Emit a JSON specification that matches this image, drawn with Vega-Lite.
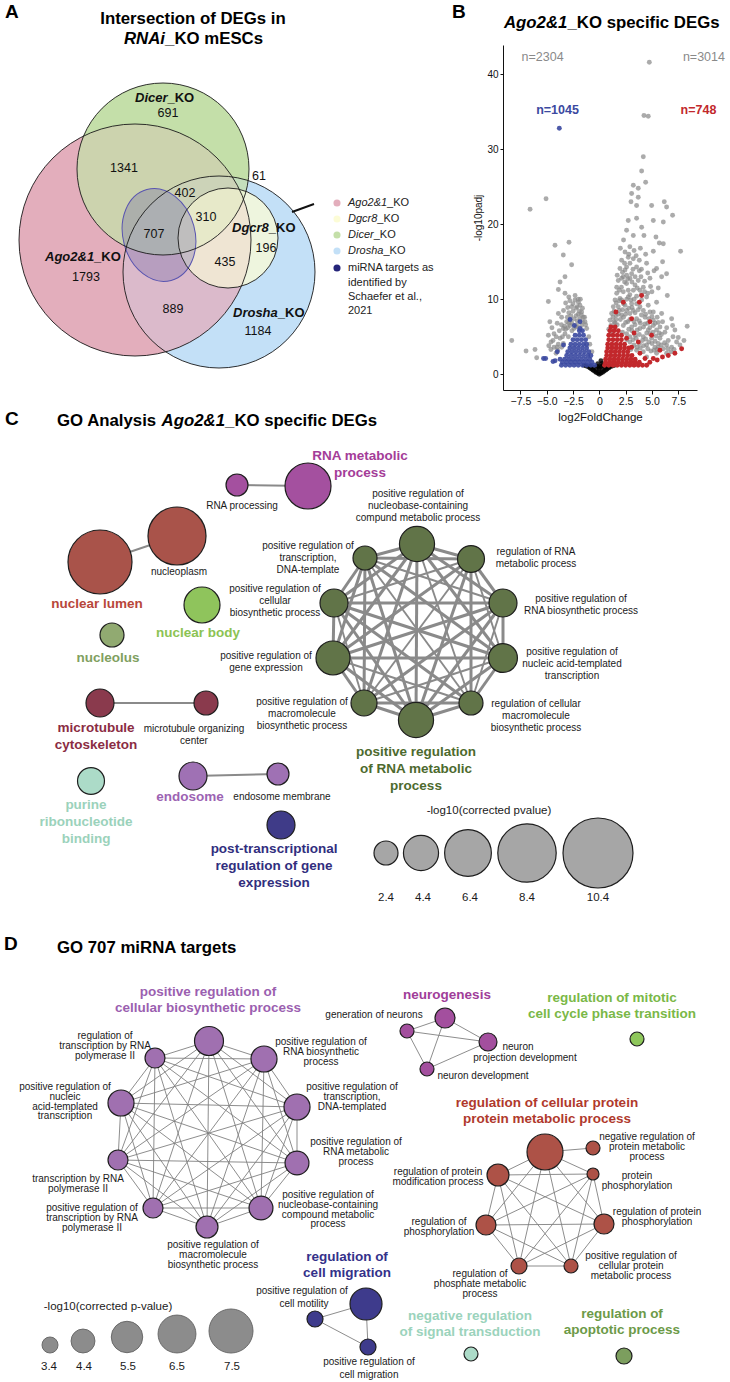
{
"$schema":"https://vega.github.io/schema/vega-lite/v6.json",
"padding":0,
"spacing":0,
"bounds":"flush",
"config":{"view":{"stroke":null},"font":"Liberation Sans"},
"resolve":{"scale":{"color":"independent","size":"independent","opacity":"independent","strokeWidth":"independent"}},
"datasets":{
"volcano":[
{"x":-8.32,"y":4.5,"g":"all"},{"x":-6.96,"y":3.1,"g":"all"},{"x":-6.11,"y":3.3,"g":"all"},{"x":-6.58,"y":22.0,"g":"all"},{"x":-5.06,"y":23.4,"g":"all"},{"x":-4.84,"y":9.7,"g":"all"},{"x":-4.84,"y":5.2,"g":"all"},{"x":-4.59,"y":4.3,"g":"all"},{"x":-5.95,"y":2.2,"g":"all"},{"x":-4.21,"y":17.2,"g":"all"},{"x":-3.89,"y":11.3,"g":"all"},{"x":-3.73,"y":12.3,"g":"all"},{"x":-3.89,"y":8.1,"g":"all"},{"x":-3.42,"y":15.9,"g":"all"},{"x":-3.26,"y":13.0,"g":"all"},{"x":-3.26,"y":10.8,"g":"all"},{"x":-2.88,"y":17.6,"g":"all"},{"x":-2.63,"y":14.6,"g":"all"},{"x":-4.30,"y":5.4,"g":"all"},{"x":-3.42,"y":6.1,"g":"all"},{"x":-3.58,"y":7.6,"g":"all"},{"x":-3.04,"y":7.6,"g":"all"},{"x":-2.31,"y":9.9,"g":"all"},{"x":-1.99,"y":9.6,"g":"all"},{"x":-1.84,"y":9.2,"g":"all"},{"x":-2.22,"y":8.8,"g":"all"},{"x":-2.63,"y":9.0,"g":"all"},{"x":-1.68,"y":8.3,"g":"all"},{"x":-1.84,"y":7.4,"g":"all"},{"x":-1.52,"y":7.6,"g":"all"},{"x":-2.78,"y":7.2,"g":"all"},{"x":-2.15,"y":6.5,"g":"all"},{"x":-1.68,"y":6.5,"g":"all"},{"x":-3.58,"y":3.6,"g":"all"},{"x":-3.96,"y":3.2,"g":"all"},{"x":-3.26,"y":5.4,"g":"all"},{"x":-2.94,"y":5.0,"g":"all"},{"x":-3.73,"y":4.8,"g":"all"},{"x":-4.11,"y":2.8,"g":"all"},{"x":-2.78,"y":6.5,"g":"all"},{"x":-2.41,"y":6.1,"g":"all"},{"x":-1.36,"y":7.0,"g":"all"},{"x":-1.20,"y":6.1,"g":"all"},{"x":-3.42,"y":4.1,"g":"all"},
{"x":-4.7,"y":7.0,"g":"all"},{"x":-4.5,"y":6.2,"g":"all"},{"x":-4.0,"y":6.8,"g":"all"},{"x":-3.2,"y":9.5,"g":"all"},{"x":-2.9,"y":10.3,"g":"all"},{"x":-2.5,"y":8.4,"g":"all"},{"x":-2.0,"y":8.0,"g":"all"},{"x":-1.6,"y":7.0,"g":"all"},{"x":-1.3,"y":6.6,"g":"all"},{"x":-1.0,"y":5.0,"g":"all"},{"x":-0.9,"y":4.0,"g":"all"},{"x":-0.7,"y":3.0,"g":"all"},{"x":-3.9,"y":4.0,"g":"all"},{"x":-4.3,"y":3.6,"g":"all"},{"x":-3.0,"y":6.2,"g":"all"},{"x":-2.6,"y":6.8,"g":"all"},{"x":-2.1,"y":7.1,"g":"all"},
{"x":-3.4,"y":8.5,"g":"all"},{"x":-3.1,"y":7.0,"g":"all"},{"x":-2.9,"y":8.2,"g":"all"},{"x":-2.7,"y":7.8,"g":"all"},{"x":-2.4,"y":7.4,"g":"all"},{"x":-2.2,"y":7.8,"g":"all"},{"x":-1.9,"y":8.4,"g":"all"},{"x":-1.7,"y":7.9,"g":"all"},{"x":-1.4,"y":7.6,"g":"all"},{"x":-2.5,"y":9.4,"g":"all"},{"x":-2.1,"y":9.0,"g":"all"},{"x":-1.6,"y":8.8,"g":"all"},{"x":-2.8,"y":9.8,"g":"all"},{"x":-3.0,"y":8.9,"g":"all"},{"x":-2.3,"y":10.5,"g":"all"},{"x":-2.0,"y":10.0,"g":"all"},{"x":-1.8,"y":10.0,"g":"all"},{"x":-3.6,"y":6.6,"g":"all"},{"x":-3.3,"y":6.4,"g":"all"},{"x":-2.9,"y":6.8,"g":"all"},{"x":-3.8,"y":5.8,"g":"all"},{"x":-3.5,"y":5.0,"g":"all"},{"x":-4.1,"y":5.0,"g":"all"},{"x":-4.4,"y":4.5,"g":"all"},{"x":-4.0,"y":3.6,"g":"all"},{"x":-4.6,"y":3.3,"g":"all"},{"x":-4.8,"y":3.8,"g":"all"},{"x":-2.6,"y":5.8,"g":"all"},{"x":-2.2,"y":6.3,"g":"all"},{"x":-3.2,"y":6.0,"g":"all"},
{"x":4.75,"y":41.6,"g":"all"},{"x":4.24,"y":34.5,"g":"all"},{"x":4.65,"y":34.4,"g":"all"},{"x":4.18,"y":29.0,"g":"all"},{"x":4.02,"y":27.1,"g":"all"},{"x":3.23,"y":25.2,"g":"all"},{"x":3.07,"y":24.1,"g":"all"},{"x":3.70,"y":24.8,"g":"all"},{"x":4.40,"y":25.6,"g":"all"},{"x":4.97,"y":22.5,"g":"all"},{"x":6.17,"y":23.0,"g":"all"},{"x":6.39,"y":22.3,"g":"all"},{"x":6.96,"y":21.2,"g":"all"},{"x":3.01,"y":23.0,"g":"all"},{"x":3.70,"y":23.6,"g":"all"},{"x":3.54,"y":22.5,"g":"all"},{"x":2.75,"y":20.5,"g":"all"},{"x":3.54,"y":20.8,"g":"all"},{"x":4.02,"y":19.6,"g":"all"},{"x":5.13,"y":20.5,"g":"all"},{"x":6.08,"y":20.3,"g":"all"},{"x":2.59,"y":19.2,"g":"all"},{"x":3.23,"y":18.5,"g":"all"},{"x":4.24,"y":18.5,"g":"all"},{"x":5.38,"y":18.3,"g":"all"},{"x":5.70,"y":17.5,"g":"all"},{"x":6.08,"y":17.4,"g":"all"},{"x":7.72,"y":16.4,"g":"all"},{"x":5.13,"y":16.4,"g":"all"},{"x":2.44,"y":16.3,"g":"all"},{"x":2.75,"y":15.6,"g":"all"},{"x":3.23,"y":15.4,"g":"all"},{"x":3.80,"y":15.2,"g":"all"},{"x":4.49,"y":14.8,"g":"all"},{"x":5.44,"y":14.1,"g":"all"},{"x":6.01,"y":15.0,"g":"all"},{"x":1.96,"y":14.1,"g":"all"},{"x":2.44,"y":13.9,"g":"all"},{"x":3.07,"y":13.4,"g":"all"},{"x":3.96,"y":13.0,"g":"all"},{"x":4.81,"y":12.8,"g":"all"},{"x":5.92,"y":13.0,"g":"all"},{"x":6.39,"y":13.4,"g":"all"},{"x":2.12,"y":12.8,"g":"all"},{"x":2.59,"y":12.1,"g":"all"},{"x":3.39,"y":11.9,"g":"all"},{"x":4.18,"y":11.6,"g":"all"},{"x":4.87,"y":11.7,"g":"all"},{"x":6.46,"y":10.5,"g":"all"},{"x":2.28,"y":11.0,"g":"all"},{"x":1.96,"y":10.1,"g":"all"},{"x":2.75,"y":10.3,"g":"all"},{"x":3.54,"y":10.4,"g":"all"},{"x":4.49,"y":10.3,"g":"all"},{"x":5.44,"y":9.6,"g":"all"},{"x":1.80,"y":9.0,"g":"all"},{"x":2.44,"y":9.2,"g":"all"},{"x":3.07,"y":9.4,"g":"all"},{"x":3.86,"y":9.0,"g":"all"},{"x":4.81,"y":8.3,"g":"all"},{"x":5.92,"y":8.1,"g":"all"},{"x":6.87,"y":7.4,"g":"all"},{"x":1.58,"y":7.9,"g":"all"},{"x":2.12,"y":7.9,"g":"all"},{"x":2.91,"y":8.1,"g":"all"},{"x":3.54,"y":7.4,"g":"all"},{"x":4.34,"y":7.6,"g":"all"},{"x":5.13,"y":7.2,"g":"all"},{"x":6.01,"y":7.0,"g":"all"},{"x":6.96,"y":6.5,"g":"all"},{"x":8.35,"y":6.4,"g":"all"},{"x":1.49,"y":6.8,"g":"all"},{"x":2.28,"y":6.5,"g":"all"},{"x":3.07,"y":6.3,"g":"all"},{"x":3.86,"y":6.1,"g":"all"},{"x":4.65,"y":5.9,"g":"all"},{"x":5.44,"y":5.9,"g":"all"},{"x":6.23,"y":5.6,"g":"all"},{"x":7.18,"y":5.9,"g":"all"},{"x":2.59,"y":5.4,"g":"all"},{"x":3.39,"y":5.2,"g":"all"},{"x":4.18,"y":5.0,"g":"all"},{"x":4.97,"y":4.8,"g":"all"},{"x":5.76,"y":4.8,"g":"all"},{"x":6.55,"y":4.5,"g":"all"},{"x":8.04,"y":4.5,"g":"all"},{"x":2.91,"y":4.3,"g":"all"},{"x":3.80,"y":4.1,"g":"all"},{"x":4.49,"y":3.9,"g":"all"},{"x":5.28,"y":3.6,"g":"all"},{"x":6.08,"y":3.4,"g":"all"},{"x":6.87,"y":3.6,"g":"all"},{"x":3.54,"y":3.2,"g":"all"},{"x":4.18,"y":3.0,"g":"all"},{"x":5.44,"y":2.8,"g":"all"},{"x":6.39,"y":2.8,"g":"all"},{"x":4.49,"y":2.3,"g":"all"},{"x":2.59,"y":14.3,"g":"all"},{"x":2.12,"y":15.2,"g":"all"},{"x":2.91,"y":14.8,"g":"all"},{"x":3.54,"y":14.3,"g":"all"},{"x":2.28,"y":13.0,"g":"all"},{"x":2.91,"y":12.8,"g":"all"},{"x":3.70,"y":12.5,"g":"all"},{"x":2.75,"y":11.2,"g":"all"},{"x":3.23,"y":11.2,"g":"all"},{"x":3.86,"y":11.2,"g":"all"},{"x":1.65,"y":11.6,"g":"all"},{"x":1.90,"y":11.2,"g":"all"},{"x":1.65,"y":10.8,"g":"all"},{"x":1.49,"y":9.9,"g":"all"},{"x":1.33,"y":9.0,"g":"all"},{"x":1.17,"y":8.1,"g":"all"},{"x":1.01,"y":7.2,"g":"all"},{"x":2.12,"y":9.9,"g":"all"},{"x":2.59,"y":8.5,"g":"all"},{"x":3.23,"y":8.5,"g":"all"},{"x":4.18,"y":8.5,"g":"all"},{"x":3.54,"y":9.4,"g":"all"},{"x":4.02,"y":9.9,"g":"all"},{"x":4.65,"y":9.2,"g":"all"},{"x":5.13,"y":8.3,"g":"all"},{"x":4.34,"y":6.7,"g":"all"},{"x":5.13,"y":6.5,"g":"all"},{"x":5.76,"y":6.3,"g":"all"},{"x":4.81,"y":5.4,"g":"all"},{"x":5.60,"y":4.1,"g":"all"},{"x":6.39,"y":3.9,"g":"all"},{"x":7.34,"y":4.3,"g":"all"},{"x":7.66,"y":3.9,"g":"all"},
{"x":2.0,"y":16.8,"g":"all"},{"x":2.3,"y":17.9,"g":"all"},{"x":2.9,"y":17.0,"g":"all"},{"x":3.3,"y":16.5,"g":"all"},{"x":3.9,"y":16.8,"g":"all"},{"x":4.4,"y":16.0,"g":"all"},{"x":4.0,"y":14.0,"g":"all"},{"x":4.6,"y":13.5,"g":"all"},{"x":5.2,"y":13.8,"g":"all"},{"x":5.0,"y":11.0,"g":"all"},{"x":5.6,"y":11.5,"g":"all"},{"x":3.0,"y":9.9,"g":"all"},{"x":3.3,"y":7.0,"g":"all"},{"x":2.7,"y":7.0,"g":"all"},{"x":1.9,"y":8.5,"g":"all"},{"x":1.3,"y":7.6,"g":"all"},{"x":1.1,"y":6.5,"g":"all"},{"x":5.5,"y":7.6,"g":"all"},{"x":6.4,"y":6.2,"g":"all"},{"x":7.0,"y":5.0,"g":"all"},{"x":7.5,"y":4.9,"g":"all"},{"x":5.9,"y":5.3,"g":"all"},
{"x":0.9,"y":6.0,"g":"all"},{"x":1.2,"y":5.5,"g":"all"},{"x":1.4,"y":7.0,"g":"all"},{"x":1.7,"y":6.6,"g":"all"},{"x":2.0,"y":7.3,"g":"all"},{"x":2.3,"y":7.6,"g":"all"},{"x":2.5,"y":6.9,"g":"all"},{"x":2.8,"y":6.0,"g":"all"},{"x":3.1,"y":5.8,"g":"all"},{"x":3.4,"y":6.6,"g":"all"},{"x":3.6,"y":5.9,"g":"all"},{"x":3.9,"y":6.8,"g":"all"},{"x":4.2,"y":6.3,"g":"all"},{"x":4.5,"y":5.5,"g":"all"},{"x":4.8,"y":6.2,"g":"all"},{"x":5.1,"y":5.6,"g":"all"},{"x":5.4,"y":5.1,"g":"all"},{"x":5.7,"y":5.5,"g":"all"},{"x":2.2,"y":5.6,"g":"all"},{"x":2.6,"y":4.6,"g":"all"},{"x":2.9,"y":5.0,"g":"all"},{"x":3.2,"y":4.6,"g":"all"},{"x":3.5,"y":4.8,"g":"all"},{"x":3.8,"y":5.3,"g":"all"},{"x":4.1,"y":4.5,"g":"all"},{"x":4.4,"y":4.7,"g":"all"},{"x":4.7,"y":4.3,"g":"all"},{"x":5.0,"y":4.1,"g":"all"},{"x":5.3,"y":4.4,"g":"all"},{"x":5.6,"y":3.6,"g":"all"},{"x":5.9,"y":3.9,"g":"all"},{"x":6.2,"y":4.2,"g":"all"},{"x":3.0,"y":3.3,"g":"all"},{"x":3.3,"y":3.9,"g":"all"},{"x":3.6,"y":3.6,"g":"all"},{"x":3.9,"y":3.5,"g":"all"},{"x":4.2,"y":3.8,"g":"all"},{"x":4.6,"y":3.4,"g":"all"},{"x":4.9,"y":3.1,"g":"all"},{"x":5.2,"y":3.2,"g":"all"},{"x":5.5,"y":3.3,"g":"all"},{"x":6.5,"y":3.4,"g":"all"},{"x":6.8,"y":3.0,"g":"all"},{"x":7.1,"y":3.3,"g":"all"},{"x":1.6,"y":9.5,"g":"all"},{"x":1.9,"y":9.8,"g":"all"},{"x":2.3,"y":9.4,"g":"all"},{"x":2.6,"y":10.0,"g":"all"},{"x":2.9,"y":10.6,"g":"all"},{"x":3.3,"y":10.0,"g":"all"},{"x":3.6,"y":11.5,"g":"all"},{"x":4.0,"y":10.6,"g":"all"},{"x":4.3,"y":11.0,"g":"all"},{"x":4.6,"y":10.8,"g":"all"},{"x":2.1,"y":11.6,"g":"all"},{"x":2.4,"y":12.3,"g":"all"},{"x":2.7,"y":12.7,"g":"all"},{"x":3.1,"y":12.3,"g":"all"},{"x":3.4,"y":13.0,"g":"all"},{"x":3.8,"y":13.8,"g":"all"},{"x":4.3,"y":12.4,"g":"all"},{"x":1.8,"y":12.5,"g":"all"},{"x":2.2,"y":13.6,"g":"all"},{"x":2.6,"y":13.2,"g":"all"},{"x":3.2,"y":14.0,"g":"all"},{"x":3.5,"y":15.8,"g":"all"},{"x":2.8,"y":16.0,"g":"all"},{"x":1.7,"y":13.2,"g":"all"},{"x":2.4,"y":14.8,"g":"all"},{"x":1.4,"y":8.4,"g":"all"},{"x":1.6,"y":7.3,"g":"all"},{"x":1.8,"y":8.0,"g":"all"},{"x":2.2,"y":8.6,"g":"all"},{"x":2.5,"y":8.0,"g":"all"},{"x":2.8,"y":8.8,"g":"all"},{"x":3.1,"y":8.9,"g":"all"},{"x":3.4,"y":8.2,"g":"all"},{"x":3.7,"y":8.6,"g":"all"},{"x":4.0,"y":7.9,"g":"all"},{"x":4.4,"y":8.0,"g":"all"},{"x":4.7,"y":7.4,"g":"all"},{"x":5.0,"y":7.7,"g":"all"},{"x":5.3,"y":6.8,"g":"all"},{"x":5.6,"y":6.9,"g":"all"},{"x":4.6,"y":6.8,"g":"all"},{"x":3.8,"y":7.1,"g":"all"},{"x":2.9,"y":7.3,"g":"all"},
{"x":0,"y":0,"g":"ns"},{"x":-0.15,"y":0.12,"g":"ns"},{"x":0.15,"y":0.12,"g":"ns"},{"x":-0.3,"y":0.25,"g":"ns"},{"x":0.3,"y":0.25,"g":"ns"},{"x":-0.45,"y":0.4,"g":"ns"},{"x":0.45,"y":0.4,"g":"ns"},{"x":-0.6,"y":0.55,"g":"ns"},{"x":0.6,"y":0.55,"g":"ns"},{"x":-0.75,"y":0.7,"g":"ns"},{"x":0.75,"y":0.7,"g":"ns"},{"x":-0.9,"y":0.85,"g":"ns"},{"x":0.9,"y":0.85,"g":"ns"},{"x":-1.05,"y":1.0,"g":"ns"},{"x":1.05,"y":1.0,"g":"ns"},{"x":-1.25,"y":1.1,"g":"ns"},{"x":1.25,"y":1.1,"g":"ns"},{"x":-1.45,"y":1.2,"g":"ns"},{"x":1.45,"y":1.2,"g":"ns"},{"x":0,"y":0.35,"g":"ns"},{"x":0,"y":0.7,"g":"ns"},{"x":0,"y":1.0,"g":"ns"},{"x":-0.3,"y":0.65,"g":"ns"},{"x":0.3,"y":0.65,"g":"ns"},{"x":-0.55,"y":0.95,"g":"ns"},{"x":0.55,"y":0.95,"g":"ns"},{"x":-0.2,"y":1.05,"g":"ns"},{"x":0.2,"y":1.05,"g":"ns"},{"x":-0.8,"y":1.1,"g":"ns"},{"x":0.8,"y":1.1,"g":"ns"},{"x":0.25,"y":1.45,"g":"ns"},{"x":0.15,"y":1.8,"g":"ns"},{"x":-0.15,"y":1.4,"g":"ns"},{"x":0.35,"y":1.2,"g":"ns"},
{"x":-3.6,"y":1.2,"g":"down"},{"x":-3.2,"y":1.2,"g":"down"},{"x":-2.8,"y":1.2,"g":"down"},{"x":-2.4,"y":1.2,"g":"down"},{"x":-2.0,"y":1.2,"g":"down"},{"x":-1.6,"y":1.2,"g":"down"},{"x":-1.2,"y":1.2,"g":"down"},{"x":-0.8,"y":1.2,"g":"down"},{"x":-0.45,"y":1.2,"g":"down"},
{"x":-3.5,"y":1.6,"g":"down"},{"x":-3.1,"y":1.6,"g":"down"},{"x":-2.7,"y":1.6,"g":"down"},{"x":-2.3,"y":1.6,"g":"down"},{"x":-1.9,"y":1.6,"g":"down"},{"x":-1.5,"y":1.6,"g":"down"},{"x":-1.1,"y":1.6,"g":"down"},{"x":-0.7,"y":1.6,"g":"down"},
{"x":-3.3,"y":2.0,"g":"down"},{"x":-2.9,"y":2.0,"g":"down"},{"x":-2.5,"y":2.0,"g":"down"},{"x":-2.1,"y":2.0,"g":"down"},{"x":-1.7,"y":2.0,"g":"down"},{"x":-1.3,"y":2.0,"g":"down"},{"x":-0.9,"y":2.0,"g":"down"},
{"x":-3.1,"y":2.5,"g":"down"},{"x":-2.7,"y":2.5,"g":"down"},{"x":-2.3,"y":2.5,"g":"down"},{"x":-1.9,"y":2.5,"g":"down"},{"x":-1.5,"y":2.5,"g":"down"},{"x":-1.1,"y":2.5,"g":"down"},{"x":-0.8,"y":2.5,"g":"down"},
{"x":-3.0,"y":3.0,"g":"down"},{"x":-2.6,"y":3.0,"g":"down"},{"x":-2.2,"y":3.0,"g":"down"},{"x":-1.8,"y":3.0,"g":"down"},{"x":-1.4,"y":3.0,"g":"down"},{"x":-1.0,"y":3.0,"g":"down"},
{"x":-2.8,"y":3.5,"g":"down"},{"x":-2.4,"y":3.5,"g":"down"},{"x":-2.0,"y":3.5,"g":"down"},{"x":-1.6,"y":3.5,"g":"down"},{"x":-1.2,"y":3.5,"g":"down"},
{"x":-2.7,"y":4.0,"g":"down"},{"x":-2.3,"y":4.0,"g":"down"},{"x":-1.9,"y":4.0,"g":"down"},{"x":-1.5,"y":4.0,"g":"down"},{"x":-1.2,"y":4.0,"g":"down"},
{"x":-2.5,"y":4.6,"g":"down"},{"x":-2.1,"y":4.6,"g":"down"},{"x":-1.7,"y":4.6,"g":"down"},{"x":-1.3,"y":4.6,"g":"down"},
{"x":-2.3,"y":5.2,"g":"down"},{"x":-1.9,"y":5.2,"g":"down"},{"x":-1.5,"y":5.2,"g":"down"},{"x":-1.9,"y":5.8,"g":"down"},{"x":-1.6,"y":5.8,"g":"down"},
{"x":-3.8,"y":32.8,"g":"down"},{"x":-5.3,"y":2.1,"g":"down"},{"x":-5.1,"y":2.1,"g":"down"},{"x":-4.2,"y":1.8,"g":"down"},{"x":-3.99,"y":3.0,"g":"down"},{"x":-3.73,"y":2.0,"g":"down"},{"x":-2.78,"y":7.3,"g":"down"},{"x":-2.37,"y":6.5,"g":"down"},{"x":-1.84,"y":6.1,"g":"down"},{"x":-1.84,"y":7.0,"g":"down"},{"x":-3.4,"y":3.9,"g":"down"},{"x":-4.4,"y":1.7,"g":"down"},
{"x":0.5,"y":1.2,"g":"up"},{"x":0.9,"y":1.2,"g":"up"},{"x":1.3,"y":1.2,"g":"up"},{"x":1.7,"y":1.2,"g":"up"},{"x":2.1,"y":1.2,"g":"up"},{"x":2.5,"y":1.2,"g":"up"},{"x":2.9,"y":1.2,"g":"up"},{"x":3.3,"y":1.2,"g":"up"},{"x":3.7,"y":1.2,"g":"up"},{"x":4.1,"y":1.2,"g":"up"},{"x":4.5,"y":1.2,"g":"up"},
{"x":0.6,"y":1.6,"g":"up"},{"x":1.0,"y":1.6,"g":"up"},{"x":1.4,"y":1.6,"g":"up"},{"x":1.8,"y":1.6,"g":"up"},{"x":2.2,"y":1.6,"g":"up"},{"x":2.6,"y":1.6,"g":"up"},{"x":3.0,"y":1.6,"g":"up"},{"x":3.4,"y":1.6,"g":"up"},{"x":3.8,"y":1.6,"g":"up"},
{"x":0.6,"y":2.0,"g":"up"},{"x":1.0,"y":2.0,"g":"up"},{"x":1.4,"y":2.0,"g":"up"},{"x":1.8,"y":2.0,"g":"up"},{"x":2.2,"y":2.0,"g":"up"},{"x":2.6,"y":2.0,"g":"up"},{"x":3.0,"y":2.0,"g":"up"},{"x":3.4,"y":2.0,"g":"up"},
{"x":0.7,"y":2.5,"g":"up"},{"x":1.1,"y":2.5,"g":"up"},{"x":1.5,"y":2.5,"g":"up"},{"x":1.9,"y":2.5,"g":"up"},{"x":2.3,"y":2.5,"g":"up"},{"x":2.7,"y":2.5,"g":"up"},{"x":3.1,"y":2.5,"g":"up"},
{"x":0.7,"y":3.0,"g":"up"},{"x":1.1,"y":3.0,"g":"up"},{"x":1.5,"y":3.0,"g":"up"},{"x":1.9,"y":3.0,"g":"up"},{"x":2.3,"y":3.0,"g":"up"},{"x":2.7,"y":3.0,"g":"up"},
{"x":0.8,"y":3.5,"g":"up"},{"x":1.2,"y":3.5,"g":"up"},{"x":1.6,"y":3.5,"g":"up"},{"x":2.0,"y":3.5,"g":"up"},{"x":2.4,"y":3.5,"g":"up"},{"x":2.8,"y":3.5,"g":"up"},
{"x":0.8,"y":4.0,"g":"up"},{"x":1.2,"y":4.0,"g":"up"},{"x":1.6,"y":4.0,"g":"up"},{"x":2.0,"y":4.0,"g":"up"},{"x":2.4,"y":4.0,"g":"up"},
{"x":0.9,"y":4.6,"g":"up"},{"x":1.3,"y":4.6,"g":"up"},{"x":1.7,"y":4.6,"g":"up"},{"x":2.1,"y":4.6,"g":"up"},
{"x":0.9,"y":5.2,"g":"up"},{"x":1.3,"y":5.2,"g":"up"},{"x":1.7,"y":5.2,"g":"up"},{"x":2.1,"y":5.2,"g":"up"},
{"x":1.0,"y":5.8,"g":"up"},{"x":1.4,"y":5.8,"g":"up"},{"x":1.8,"y":5.8,"g":"up"},{"x":1.1,"y":6.3,"g":"up"},{"x":1.5,"y":6.3,"g":"up"},
{"x":4.02,"y":10.5,"g":"up"},{"x":3.80,"y":9.6,"g":"up"},{"x":2.28,"y":9.6,"g":"up"},{"x":1.58,"y":8.3,"g":"up"},{"x":3.07,"y":7.4,"g":"up"},{"x":4.81,"y":7.0,"g":"up"},{"x":4.97,"y":5.2,"g":"up"},{"x":3.70,"y":4.3,"g":"up"},{"x":5.76,"y":3.2,"g":"up"},{"x":6.55,"y":2.5,"g":"up"},{"x":7.18,"y":2.8,"g":"up"},{"x":7.82,"y":3.4,"g":"up"},{"x":3.86,"y":2.8,"g":"up"},{"x":4.34,"y":2.1,"g":"up"},{"x":5.13,"y":2.1,"g":"up"},{"x":3.07,"y":3.6,"g":"up"},{"x":2.59,"y":4.8,"g":"up"},{"x":3.3,"y":5.5,"g":"up"},{"x":5.5,"y":1.9,"g":"up"},{"x":6.0,"y":2.3,"g":"up"},{"x":4.8,"y":1.6,"g":"up"}
],
"cn":[
{"id":"rnaproc","x":237,"y":485,"p":2.0,"cl":"rna"},
{"id":"rnamet","x":308,"y":486,"p":6.27,"cl":"rna"},
{"id":"nucleoplasm","x":177,"y":536,"p":8.33,"cl":"lumen"},
{"id":"lumen","x":100,"y":562,"p":9.36,"cl":"lumen"},
{"id":"body","x":202,"y":605,"p":4.55,"cl":"body"},
{"id":"nucleolus","x":112,"y":635,"p":2.4,"cl":"nucleolus"},
{"id":"micro","x":100,"y":703,"p":3.14,"cl":"micro"},
{"id":"mtoc","x":206,"y":703,"p":2.4,"cl":"micro"},
{"id":"endo","x":193,"y":776,"p":3.14,"cl":"endo"},
{"id":"endomem","x":278,"y":774,"p":2.0,"cl":"endo"},
{"id":"purine","x":91,"y":781,"p":2.95,"cl":"purine"},
{"id":"post","x":281,"y":825,"p":3.14,"cl":"post"},
{"id":"c1","x":417,"y":544,"p":4.4,"cl":"ring"},
{"id":"c2","x":471,"y":559,"p":2.95,"cl":"ring"},
{"id":"c3","x":503,"y":603,"p":3.14,"cl":"ring"},
{"id":"c4","x":503,"y":658,"p":3.3,"cl":"ring"},
{"id":"c5","x":471,"y":703,"p":2.4,"cl":"ring"},
{"id":"c6","x":416,"y":720,"p":4.4,"cl":"ring"},
{"id":"c7","x":364,"y":703,"p":2.78,"cl":"ring"},
{"id":"c8","x":333,"y":658,"p":4.21,"cl":"ring"},
{"id":"c9","x":334,"y":603,"p":3.14,"cl":"ring"},
{"id":"c10","x":365,"y":558,"p":2.4,"cl":"ring"}
],
"ce":[
{"s":"rnaproc","t":"rnamet","w":1.8},{"s":"nucleoplasm","t":"lumen","w":1.8},{"s":"micro","t":"mtoc","w":1.8},{"s":"endo","t":"endomem","w":1.8},
{"s":"c1","t":"c2","w":3},{"s":"c1","t":"c3","w":3},{"s":"c1","t":"c4","w":3},{"s":"c1","t":"c5","w":1.8},{"s":"c1","t":"c6","w":3},{"s":"c1","t":"c7","w":3},{"s":"c1","t":"c8","w":3},{"s":"c1","t":"c9","w":3},{"s":"c1","t":"c10","w":3},
{"s":"c2","t":"c3","w":3},{"s":"c2","t":"c4","w":1.8},{"s":"c2","t":"c5","w":3},{"s":"c2","t":"c6","w":3},{"s":"c2","t":"c7","w":1.8},{"s":"c2","t":"c8","w":3},{"s":"c2","t":"c9","w":1.8},{"s":"c2","t":"c10","w":3},
{"s":"c3","t":"c4","w":3},{"s":"c3","t":"c5","w":1.8},{"s":"c3","t":"c6","w":3},{"s":"c3","t":"c7","w":3},{"s":"c3","t":"c8","w":3},{"s":"c3","t":"c9","w":3},{"s":"c3","t":"c10","w":1.8},
{"s":"c4","t":"c5","w":3},{"s":"c4","t":"c6","w":3},{"s":"c4","t":"c7","w":1.8},{"s":"c4","t":"c8","w":3},{"s":"c4","t":"c9","w":3},{"s":"c4","t":"c10","w":3},
{"s":"c5","t":"c6","w":3},{"s":"c5","t":"c7","w":3},{"s":"c5","t":"c8","w":1.8},{"s":"c5","t":"c9","w":3},{"s":"c5","t":"c10","w":1.8},
{"s":"c6","t":"c7","w":3},{"s":"c6","t":"c8","w":3},{"s":"c6","t":"c9","w":3},{"s":"c6","t":"c10","w":3},
{"s":"c7","t":"c8","w":3},{"s":"c7","t":"c9","w":1.8},{"s":"c7","t":"c10","w":3},
{"s":"c8","t":"c9","w":3},{"s":"c8","t":"c10","w":3},{"s":"c9","t":"c10","w":3}
],
"dn":[
{"id":"d1","x":209,"y":1041,"p":5.13,"cl":"ring"},
{"id":"d2","x":155,"y":1058,"p":3.88,"cl":"ring"},
{"id":"d3","x":264,"y":1059,"p":4.7,"cl":"ring"},
{"id":"d4","x":121,"y":1103,"p":4.7,"cl":"ring"},
{"id":"d5","x":297,"y":1107,"p":4.7,"cl":"ring"},
{"id":"d6","x":118,"y":1160,"p":3.88,"cl":"ring"},
{"id":"d7","x":297,"y":1163,"p":4.4,"cl":"ring"},
{"id":"d8","x":153,"y":1208,"p":3.88,"cl":"ring"},
{"id":"d9","x":261,"y":1208,"p":4.4,"cl":"ring"},
{"id":"d10","x":207,"y":1227,"p":4.14,"cl":"ring"},
{"id":"n1","x":445,"y":1018,"p":3.88,"cl":"neuro"},
{"id":"n2","x":407,"y":1031,"p":3.18,"cl":"neuro"},
{"id":"n3","x":488,"y":1042,"p":3.63,"cl":"neuro"},
{"id":"n4","x":427,"y":1069,"p":3.18,"cl":"neuro"},
{"id":"g1","x":637,"y":1039,"p":3.18,"cl":"mitotic"},
{"id":"e1","x":545,"y":1152,"p":6.2,"cl":"protein"},
{"id":"e2","x":593,"y":1148,"p":3.18,"cl":"protein"},
{"id":"e3","x":593,"y":1174,"p":2.98,"cl":"protein"},
{"id":"e4","x":498,"y":1175,"p":4.14,"cl":"protein"},
{"id":"e5","x":486,"y":1225,"p":3.88,"cl":"protein"},
{"id":"e6","x":604,"y":1224,"p":3.88,"cl":"protein"},
{"id":"e7","x":519,"y":1266,"p":3.4,"cl":"protein"},
{"id":"e8","x":571,"y":1266,"p":3.18,"cl":"protein"},
{"id":"m1","x":366,"y":1304,"p":5.58,"cl":"migration"},
{"id":"m2","x":315,"y":1319,"p":3.4,"cl":"migration"},
{"id":"m3","x":368,"y":1347,"p":3.4,"cl":"migration"},
{"id":"s1","x":471,"y":1354,"p":3.18,"cl":"signal"},
{"id":"a1","x":624,"y":1356,"p":3.4,"cl":"apoptotic"}
],
"de":[
{"s":"d1","t":"d2"},{"s":"d1","t":"d3"},{"s":"d1","t":"d4"},{"s":"d1","t":"d5"},{"s":"d1","t":"d6"},{"s":"d1","t":"d7"},{"s":"d1","t":"d8"},{"s":"d1","t":"d9"},{"s":"d1","t":"d10"},
{"s":"d2","t":"d3"},{"s":"d2","t":"d4"},{"s":"d2","t":"d5"},{"s":"d2","t":"d6"},{"s":"d2","t":"d7"},{"s":"d2","t":"d8"},{"s":"d2","t":"d9"},{"s":"d2","t":"d10"},
{"s":"d3","t":"d4"},{"s":"d3","t":"d5"},{"s":"d3","t":"d6"},{"s":"d3","t":"d7"},{"s":"d3","t":"d8"},{"s":"d3","t":"d9"},{"s":"d3","t":"d10"},
{"s":"d4","t":"d5"},{"s":"d4","t":"d6"},{"s":"d4","t":"d7"},{"s":"d4","t":"d8"},{"s":"d4","t":"d9"},{"s":"d4","t":"d10"},
{"s":"d5","t":"d6"},{"s":"d5","t":"d7"},{"s":"d5","t":"d8"},{"s":"d5","t":"d9"},{"s":"d5","t":"d10"},
{"s":"d6","t":"d7"},{"s":"d6","t":"d8"},{"s":"d6","t":"d9"},{"s":"d6","t":"d10"},
{"s":"d7","t":"d8"},{"s":"d7","t":"d9"},{"s":"d7","t":"d10"},
{"s":"d8","t":"d9"},{"s":"d8","t":"d10"},{"s":"d9","t":"d10"},
{"s":"n1","t":"n2"},{"s":"n1","t":"n3"},{"s":"n1","t":"n4"},{"s":"n2","t":"n3"},{"s":"n2","t":"n4"},{"s":"n3","t":"n4"},
{"s":"e1","t":"e2"},{"s":"e1","t":"e3"},{"s":"e1","t":"e4"},{"s":"e1","t":"e5"},{"s":"e1","t":"e6"},{"s":"e1","t":"e7"},{"s":"e1","t":"e8"},
{"s":"e3","t":"e4"},{"s":"e3","t":"e5"},{"s":"e3","t":"e6"},{"s":"e3","t":"e7"},{"s":"e3","t":"e8"},
{"s":"e4","t":"e5"},{"s":"e4","t":"e6"},{"s":"e4","t":"e7"},{"s":"e4","t":"e8"},
{"s":"e5","t":"e6"},{"s":"e5","t":"e7"},{"s":"e5","t":"e8"},
{"s":"e6","t":"e7"},{"s":"e6","t":"e8"},{"s":"e7","t":"e8"},
{"s":"m1","t":"m2"},{"s":"m1","t":"m3"},{"s":"m2","t":"m3"}
]
},
"vconcat":[
{
"width":730,"height":390,
"resolve":{"scale":{"x":"independent","y":"independent","color":"independent","size":"independent","opacity":"independent"},"axis":{"x":"independent","y":"independent"}},
"layer":[
{
"encoding":{
"x":{"field":"x","type":"quantitative","scale":{"domain":[0,730],"nice":false,"zero":false},"axis":null},
"y":{"field":"y","type":"quantitative","scale":{"domain":[390,0],"nice":false,"zero":false},"axis":null}},
"layer":[
{"data":{"values":[{"set":"Drosha","x":219,"y":272,"r":96},{"set":"Ago2&1","x":135,"y":240,"r":116},{"set":"Dicer","x":163,"y":169,"r":86},{"set":"Dgcr8","x":228,"y":238,"r":50}]},
"mark":{"type":"point","shape":"circle","filled":true,"opacity":1},
"encoding":{"color":{"field":"set","type":"nominal","scale":{"domain":["Ago2&1","Dgcr8","Dicer","Drosha","miRNA"],"range":["#e3aebc","#fcfcd6","#c4dfa9","#c3e0f7","#25257a"]},"legend":null},
"size":{"field":"r","type":"quantitative","scale":{"type":"pow","exponent":2,"domain":[0,116],"range":[0,53824]},"legend":null}}},
{"data":{"values":[{"set":"Drosha","x":219,"y":272,"r":96},{"set":"Ago2&1","x":135,"y":240,"r":116},{"set":"Dicer","x":163,"y":169,"r":86},{"set":"Dgcr8","x":228,"y":238,"r":50}]},
"mark":{"type":"point","shape":"circle","filled":true,"opacity":0.5},
"encoding":{"color":{"field":"set","type":"nominal","scale":{"domain":["Ago2&1","Dgcr8","Dicer","Drosha","miRNA"],"range":["#e3aebc","#fcfcd6","#c4dfa9","#c3e0f7","#25257a"]},"legend":null},
"size":{"field":"r","type":"quantitative","scale":{"type":"pow","exponent":2,"domain":[0,116],"range":[0,53824]},"legend":null}}},
{"data":{"values":[{"x":159,"y":235,"r":47}]},
"mark":{"type":"point","shape":"M 0,-1 A 0.766,1 0 1,1 0,1 A 0.766,1 0 1,1 0,-1 Z","filled":true,"fill":"#645ca6","fillOpacity":0.3,"stroke":"#5954b0","strokeWidth":1,"opacity":1,"angle":-15},
"encoding":{"size":{"field":"r","type":"quantitative","scale":{"type":"pow","exponent":2,"domain":[0,116],"range":[0,53824]},"legend":null}}},
{"data":{"values":[{"set":"Drosha","x":219,"y":272,"r":96},{"set":"Ago2&1","x":135,"y":240,"r":116},{"set":"Dicer","x":163,"y":169,"r":86},{"set":"Dgcr8","x":228,"y":238,"r":50}]},
"mark":{"type":"point","shape":"circle","filled":false,"color":"#1a1a1a","strokeWidth":0.9,"opacity":1},
"encoding":{"size":{"field":"r","type":"quantitative","scale":{"type":"pow","exponent":2,"domain":[0,116],"range":[0,53824]},"legend":null}}},
{"data":{"values":[{"x":292,"y":212,"x2":314,"y2":204}]},"mark":{"type":"rule","strokeWidth":2,"color":"#111"},"encoding":{"x2":{"field":"x2"},"y2":{"field":"y2"}}},
{"data":{"values":[{"x":337,"y":203,"set":"Ago2&1"},{"x":337,"y":219,"set":"Dgcr8"},{"x":337,"y":235,"set":"Dicer"},{"x":337,"y":251,"set":"Drosha"},{"x":337,"y":268,"set":"miRNA"}]},
"mark":{"type":"point","shape":"circle","filled":true,"opacity":1,"size":50},
"encoding":{"color":{"field":"set","type":"nominal","scale":{"domain":["Ago2&1","Dgcr8","Dicer","Drosha","miRNA"],"range":["#e3aebc","#fcfcd6","#c4dfa9","#c3e0f7","#25257a"]},"legend":null}}},
{"data":{"values":[{"t":"691","x":168,"y":113},{"t":"1341","x":124,"y":168},{"t":"61","x":259,"y":176},{"t":"402","x":185,"y":193},{"t":"310","x":206,"y":217},{"t":"707","x":154,"y":234},{"t":"196","x":266,"y":248},{"t":"435","x":225,"y":262},{"t":"1793","x":86,"y":277},{"t":"889","x":173,"y":309},{"t":"1184","x":258,"y":331}]},
"mark":{"type":"text","fontSize":12.5,"align":"center","baseline":"middle","color":"#111"},"encoding":{"text":{"field":"t","type":"nominal"}}},
{"data":{"values":[{"t":"Dicer","x":135,"y":98},{"t":"Dgcr8","x":232,"y":228},{"t":"Ago2&1","x":45,"y":257},{"t":"Drosha","x":233,"y":313}]},
"mark":{"type":"text","fontSize":13,"fontWeight":"bold","fontStyle":"italic","align":"left","baseline":"middle","color":"#111"},"encoding":{"text":{"field":"t","type":"nominal"}}},
{"data":{"values":[{"t":"_KO","x":167.5,"y":98},{"t":"_KO","x":268.8,"y":228},{"t":"_KO","x":94.1,"y":257},{"t":"_KO","x":277.8,"y":313}]},
"mark":{"type":"text","fontSize":13,"fontWeight":"bold","align":"left","baseline":"middle","color":"#111"},"encoding":{"text":{"field":"t","type":"nominal"}}},
{"data":{"values":[{"t":"Ago2&1","x":348,"y":203},{"t":"Dgcr8","x":348,"y":219},{"t":"Dicer","x":348,"y":235},{"t":"Drosha","x":348,"y":251}]},
"mark":{"type":"text","fontSize":11,"fontStyle":"italic","align":"left","baseline":"middle","color":"#222"},"encoding":{"text":{"field":"t","type":"nominal"}}},
{"data":{"values":[{"t":"_KO","x":387.1,"y":203},{"t":"_KO","x":377.3,"y":219},{"t":"_KO","x":373.7,"y":235},{"t":"_KO","x":383.5,"y":251},{"t":"miRNA targets as","x":348,"y":268},{"t":"identified by","x":348,"y":282.5},{"t":"Schaefer et al.,","x":348,"y":297},{"t":"2021","x":348,"y":311}]},
"mark":{"type":"text","fontSize":11,"align":"left","baseline":"middle","color":"#222"},"encoding":{"text":{"field":"t","type":"nominal"}}},
{"data":{"values":[{"x":5,"y":12,"t":"A"},{"x":452,"y":12,"t":"B"}]},"mark":{"type":"text","fontSize":19,"fontWeight":"bold","align":"left","baseline":"middle","color":"#000"},"encoding":{"text":{"field":"t","type":"nominal"}}},
{"data":{"values":[{"x":193,"y":19,"t":"Intersection of DEGs in"}]},"mark":{"type":"text","fontSize":16.8,"fontWeight":"bold","align":"center","baseline":"middle","color":"#000"},"encoding":{"text":{"field":"t","type":"nominal"}}},
{"data":{"values":[{"x":165.1,"y":39,"t":"_KO mESCs"},{"x":567.5,"y":23,"t":"_KO specific DEGs"}]},"mark":{"type":"text","fontSize":16.8,"fontWeight":"bold","align":"left","baseline":"middle","color":"#000"},"encoding":{"text":{"field":"t","type":"nominal"}}},
{"data":{"values":[{"x":124,"y":39,"t":"RNAi"},{"x":504,"y":23,"t":"Ago2&1"}]},"mark":{"type":"text","fontSize":16.8,"fontWeight":"bold","fontStyle":"italic","align":"left","baseline":"middle","color":"#000"},"encoding":{"text":{"field":"t","type":"nominal"}}}
]
},
{
"encoding":{
"x":{"field":"x","type":"quantitative","scale":{"domain":[-9.15,9.28],"range":[503,697],"nice":false,"zero":false},
"axis":{"orient":"bottom","values":[-7.5,-5,-2.5,0,2.5,5,7.5],"labelExpr":"datum.value == 0 ? '0' : format(datum.value, '.1f')","grid":false,"title":"log2FoldChange","titleFontSize":11.5,"titleFontWeight":"normal","titleColor":"#111","titlePadding":5,"labelFontSize":10.5,"labelColor":"#111","labelPadding":2,"tickSize":4,"tickColor":"#111","domainColor":"#111","labelFlush":false,"labelOverlap":false}},
"y":{"field":"y","type":"quantitative","scale":{"domain":[-2.1,43.9],"range":[390,45],"nice":false,"zero":false},
"axis":{"orient":"left","offset":-503,"values":[0,10,20,30,40],"grid":false,"title":"-log10padj","titleFontSize":10,"titleFontWeight":"normal","titleColor":"#111","titlePadding":3,"labelFontSize":10,"labelColor":"#111","labelPadding":2,"tickSize":3,"tickColor":"#111","domainColor":"#111"}}},
"layer":[
{"data":{"name":"volcano"},"mark":{"type":"circle","size":24},
"encoding":{"color":{"field":"g","type":"nominal","scale":{"domain":["all","ns","down","up"],"range":["#8a8a8a","#000000","#3b49a0","#c2282c"]},"legend":null},
"opacity":{"field":"g","type":"nominal","scale":{"domain":["all","ns","down","up"],"range":[0.72,1,1,1]},"legend":null}}},
{"data":{"values":[{"x":-5.39,"y":42.3,"t":"n=2304"},{"x":9.94,"y":42.3,"t":"n=3014"}]},"mark":{"type":"text","fontSize":12.5,"color":"#8a8a8a","align":"center","baseline":"middle"},"encoding":{"text":{"field":"t","type":"nominal"}}},
{"data":{"values":[{"x":-3.97,"y":35.2,"t":"n=1045","g":"down"},{"x":9.42,"y":35.2,"t":"n=748","g":"up"}]},"mark":{"type":"text","fontSize":12.5,"fontWeight":"bold","align":"center","baseline":"middle"},
"encoding":{"text":{"field":"t","type":"nominal"},"color":{"field":"g","type":"nominal","scale":{"domain":["all","ns","down","up"],"range":["#8a8a8a","#000000","#3b49a0","#c2282c"]},"legend":null}}}
]
}
]
},
{
"width":730,"height":992,
"encoding":{
"x":{"field":"x","type":"quantitative","scale":{"domain":[0,730],"nice":false,"zero":false},"axis":null},
"y":{"field":"y","type":"quantitative","scale":{"domain":[1382,390],"nice":false,"zero":false},"axis":null}},
"resolve":{"scale":{"color":"independent","size":"independent"}},
"layer":[
{"data":{"name":"ce"},"transform":[{"lookup":"s","from":{"data":{"name":"cn"},"key":"id","fields":["x","y"]}},{"lookup":"t","from":{"data":{"name":"cn"},"key":"id","fields":["x","y"]},"as":["x2","y2"]}],
"mark":{"type":"rule","color":"#8a8a8a"},
"encoding":{"x2":{"field":"x2"},"y2":{"field":"y2"},"strokeWidth":{"field":"w","type":"quantitative","scale":{"domain":[1,3],"range":[1.2,3]},"legend":null}}},
{"data":{"name":"cn"},"mark":{"type":"point","shape":"circle","filled":true,"opacity":1,"stroke":"#1e1e1e","strokeWidth":1.2},
"encoding":{"size":{"field":"p","type":"quantitative","scale":{"type":"pow","exponent":1.8,"domain":[2.4,10.4],"range":[576,4900]},"legend":null},
"color":{"field":"cl","type":"nominal","scale":{"domain":["rna","lumen","body","nucleolus","micro","purine","endo","post","ring"],"range":["#a4509f","#a9534a","#8fc45c","#91aa71","#8a3a4d","#acdbc8","#9f71b4","#3f3b88","#617448"]},"legend":null}}},
{"data":{"values":[{"x":386,"y":853,"p":2.4},{"x":421,"y":853,"p":4.4},{"x":468,"y":853,"p":6.4},{"x":527,"y":853,"p":8.4},{"x":598,"y":853,"p":10.4}]},
"mark":{"type":"point","shape":"circle","filled":true,"opacity":1,"fill":"#a6a6a6","stroke":"#1e1e1e","strokeWidth":1.2},
"encoding":{"size":{"field":"p","type":"quantitative","scale":{"type":"pow","exponent":1.8,"domain":[2.4,10.4],"range":[576,4900]},"legend":null}}},
{"data":{"values":[
{"x":242,"y":506,"t":"RNA processing"},
{"x":179,"y":572,"t":"nucleoplasm"},
{"x":194,"y":729,"t":"microtubule organizing\ncenter"},
{"x":282,"y":797,"t":"endosome membrane"},
{"x":308,"y":546,"t":"positive regulation of\ntranscription,\nDNA-template"},
{"x":275,"y":589,"t":"positive regulation of\ncellular\nbiosynthetic process"},
{"x":266,"y":656,"t":"positive regulation of\ngene expression"},
{"x":302,"y":702,"t":"positive regulation of\nmacromolecule\nbiosynthetic process"},
{"x":418,"y":494,"t":"positive regulation of\nnucleobase-containing\ncompund metabolic process"},
{"x":536,"y":552,"t":"regulation of RNA\nmetabolic process"},
{"x":581,"y":599,"t":"positive regulation of\nRNA biosynthetic process"},
{"x":572,"y":652,"t":"positive regulation of\nnucleic acid-templated\ntranscription"},
{"x":536,"y":704,"t":"regulation of cellular\nmacromolecule\nbiosynthetic process"}
]},
"mark":{"type":"text","fontSize":10,"lineHeight":12,"lineBreak":"\n","align":"center","baseline":"middle","color":"#1a1a1a"},"encoding":{"text":{"field":"t","type":"nominal"}}},
{"data":{"values":[
{"x":360,"y":456,"t":"RNA metabolic\nprocess","cl":"rna"},
{"x":97,"y":604,"t":"nuclear lumen","cl":"lumen"},
{"x":198,"y":633,"t":"nuclear body","cl":"body"},
{"x":108,"y":658,"t":"nucleolus","cl":"nucleolus"},
{"x":96,"y":728,"t":"microtubule\ncytoskeleton","cl":"micro"},
{"x":86,"y":805,"t":"purine\nribonucleotide\nbinding","cl":"purine"},
{"x":190,"y":797,"t":"endosome","cl":"endo"},
{"x":274,"y":849,"t":"post-transcriptional\nregulation of gene\nexpression","cl":"post"},
{"x":416,"y":752,"t":"positive regulation\nof RNA metabolic\nprocess","cl":"ring"}
]},
"mark":{"type":"text","fontSize":13.5,"fontWeight":"bold","lineHeight":17,"lineBreak":"\n","align":"center","baseline":"middle"},
"encoding":{"text":{"field":"t","type":"nominal"},"color":{"field":"cl","type":"nominal","scale":{"domain":["rna","lumen","body","nucleolus","micro","purine","endo","post","ring"],"range":["#a43c98","#b8473a","#8cc353","#80a060","#8b2c43","#9bd2bb","#9c63b3","#312e7e","#4d6a2e"]},"legend":null}}},
{"data":{"values":[{"x":5,"y":419,"t":"C"},{"x":4,"y":944,"t":"D"}]},"mark":{"type":"text","fontSize":19,"fontWeight":"bold","align":"left","baseline":"middle","color":"#000"},"encoding":{"text":{"field":"t","type":"nominal"}}},
{"data":{"values":[{"x":57,"y":421,"t":"GO Analysis"},{"x":225.1,"y":421,"t":"_KO specific DEGs"},{"x":57,"y":948,"t":"GO 707 miRNA targets"}]},"mark":{"type":"text","fontSize":16.8,"fontWeight":"bold","align":"left","baseline":"middle","color":"#000"},"encoding":{"text":{"field":"t","type":"nominal"}}},
{"data":{"values":[{"x":161.6,"y":421,"t":"Ago2&1"}]},"mark":{"type":"text","fontSize":16.8,"fontWeight":"bold","fontStyle":"italic","align":"left","baseline":"middle","color":"#000"},"encoding":{"text":{"field":"t","type":"nominal"}}},
{"data":{"values":[{"x":489,"y":811,"t":"-log10(corrected pvalue)"},{"x":386,"y":898,"t":"2.4"},{"x":423,"y":898,"t":"4.4"},{"x":470,"y":898,"t":"6.4"},{"x":527,"y":898,"t":"8.4"},{"x":598,"y":898,"t":"10.4"},{"x":108,"y":1307,"t":"-log10(corrected p-value)"},{"x":49,"y":1367,"t":"3.4"},{"x":84,"y":1367,"t":"4.4"},{"x":128,"y":1367,"t":"5.5"},{"x":177,"y":1367,"t":"6.5"},{"x":232,"y":1367,"t":"7.5"}]},
"mark":{"type":"text","fontSize":11.5,"align":"center","baseline":"middle","color":"#1a1a1a"},"encoding":{"text":{"field":"t","type":"nominal"}}},
{"data":{"name":"de"},"transform":[{"lookup":"s","from":{"data":{"name":"dn"},"key":"id","fields":["x","y"]}},{"lookup":"t","from":{"data":{"name":"dn"},"key":"id","fields":["x","y"]},"as":["x2","y2"]}],
"mark":{"type":"rule","color":"#808080","strokeWidth":0.9},
"encoding":{"x2":{"field":"x2"},"y2":{"field":"y2"}}},
{"data":{"name":"dn"},"mark":{"type":"point","shape":"circle","filled":true,"opacity":1,"stroke":"#1e1e1e","strokeWidth":1.2},
"encoding":{"size":{"field":"p","type":"quantitative","scale":{"type":"pow","exponent":1.8,"domain":[3.4,7.5],"range":[256,1936]},"legend":null},
"color":{"field":"cl","type":"nominal","scale":{"domain":["ring","neuro","mitotic","protein","migration","signal","apoptotic"],"range":["#a070b0","#a34f9e","#8ec75b","#ad5247","#3e3b8c","#acdbc8","#7c9e5e"]},"legend":null}}},
{"data":{"values":[{"x":50,"y":1345,"p":3.4},{"x":83,"y":1341,"p":4.4},{"x":127,"y":1337,"p":5.5},{"x":177,"y":1334,"p":6.5},{"x":231,"y":1331,"p":7.5}]},
"mark":{"type":"point","shape":"circle","filled":true,"opacity":1,"fill":"#8c8c8c","stroke":"#6a6a6a","strokeWidth":1},
"encoding":{"size":{"field":"p","type":"quantitative","scale":{"type":"pow","exponent":1.8,"domain":[3.4,7.5],"range":[256,1936]},"legend":null}}},
{"data":{"values":[
{"x":105,"y":1036,"t":"regulation of\ntranscription by RNA\npolymerase II"},
{"x":321,"y":1042,"t":"positive regulation of\nRNA biosynthetic\nprocess"},
{"x":65,"y":1087,"t":"positive regulation of\nnucleic\nacid-templated\ntranscription"},
{"x":352,"y":1087,"t":"positive regulation of\ntranscription,\nDNA-templated"},
{"x":356,"y":1142,"t":"positive regulation of\nRNA metabolic\nprocess"},
{"x":78,"y":1179,"t":"transcription by RNA\npolymerase II"},
{"x":92,"y":1208,"t":"positive regulation of\ntranscription by RNA\npolymerase II"},
{"x":328,"y":1195,"t":"positive regulation of\nnucleobase-containing\ncompound metabolic\nprocess"},
{"x":213,"y":1245,"t":"positive regulation of\nmacromolecule\nbiosynthetic process"},
{"x":374,"y":1015,"t":"generation of neurons"},
{"x":518,"y":1047,"t":"neuron"},
{"x":525,"y":1058,"t":"projection development"},
{"x":483,"y":1076,"t":"neuron development"},
{"x":647,"y":1137,"t":"negative regulation of\nprotein metabolic\nprocess"},
{"x":637,"y":1176,"t":"protein\nphosphorylation"},
{"x":438,"y":1172,"t":"regulation of protein\nmodification process"},
{"x":439,"y":1222,"t":"regulation of\nphosphorylation"},
{"x":657,"y":1212,"t":"regulation of protein\nphosphorylation"},
{"x":631,"y":1256,"t":"positive regulation of\ncellular protein\nmetabolic process"},
{"x":480,"y":1274,"t":"regulation of\nphosphate metabolic\nprocess"},
{"x":302,"y":1291,"t":"positive regulation of"},
{"x":304,"y":1304,"t":"cell motility"},
{"x":369,"y":1362,"t":"positive regulation of"},
{"x":369,"y":1375,"t":"cell migration"}
]},
"mark":{"type":"text","fontSize":10,"lineHeight":9.8,"lineBreak":"\n","align":"center","baseline":"middle","color":"#1a1a1a"},"encoding":{"text":{"field":"t","type":"nominal"}}},
{"data":{"values":[
{"x":208,"y":992,"t":"positive regulation of\ncellular biosynthetic process","cl":"ring"},
{"x":447,"y":995,"t":"neurogenesis","cl":"neuro"},
{"x":612,"y":998,"t":"regulation of mitotic\ncell cycle phase transition","cl":"mitotic"},
{"x":547,"y":1103,"t":"regulation of cellular protein\nprotein metabolic process","cl":"protein"},
{"x":347,"y":1257,"t":"regulation of\ncell migration","cl":"migration"},
{"x":470,"y":1316,"t":"negative regulation\nof signal transduction","cl":"signal"},
{"x":622,"y":1314,"t":"regulation of\napoptotic process","cl":"apoptotic"}
]},
"mark":{"type":"text","fontSize":13.5,"fontWeight":"bold","lineHeight":16,"lineBreak":"\n","align":"center","baseline":"middle"},
"encoding":{"text":{"field":"t","type":"nominal"},"color":{"field":"cl","type":"nominal","scale":{"domain":["ring","neuro","mitotic","protein","migration","signal","apoptotic"],"range":["#9b5fb0","#a03d99","#7ab847","#b0392c","#34318a","#9bd3bc","#6c9a48"]},"legend":null}}}
]
}
]
}
